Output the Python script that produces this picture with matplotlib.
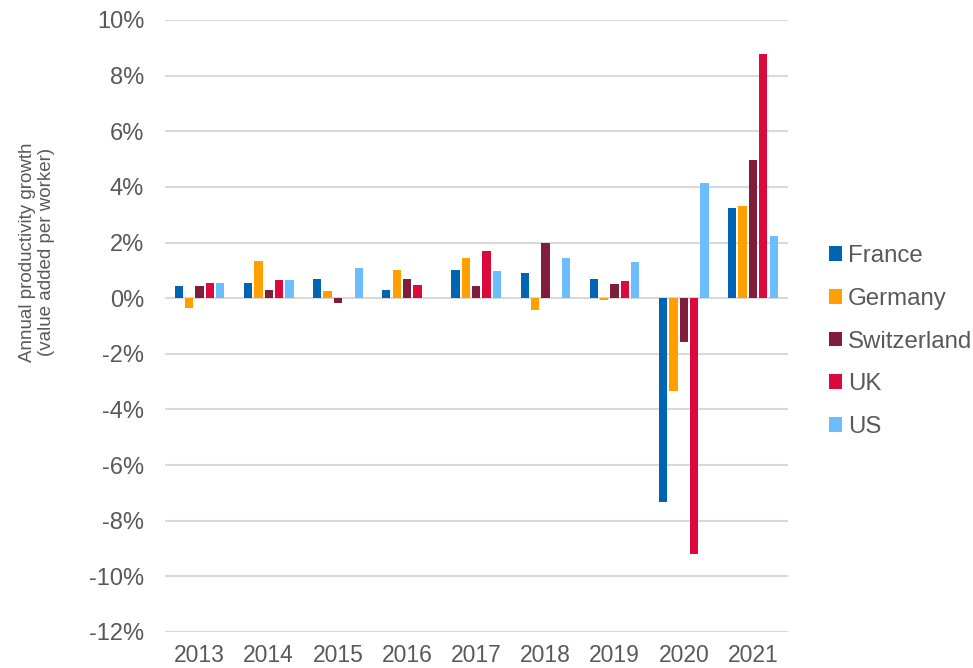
import matplotlib
matplotlib.use("Agg")
import matplotlib.pyplot as plt
import numpy as np

years = ["2013", "2014", "2015", "2016", "2017", "2018", "2019", "2020", "2021"]
countries = ["France", "Germany", "Switzerland", "UK", "US"]
france = [0.45, 0.53, 0.70, 0.31, 1.02, 0.90, 0.68, -7.33, 3.25]
germany = [-0.36, 1.32, 0.27, 1.00, 1.43, -0.42, -0.08, -3.34, 3.32]
switzerland = [0.42, 0.29, -0.16, 0.69, 0.43, 1.97, 0.52, -1.56, 4.98]
uk = [0.54, 0.64, 0.0, 0.46, 1.70, 0.0, 0.63, -9.20, 8.79]
us = [0.53, 0.66, 1.10, 0.0, 0.99, 1.46, 1.31, 4.13, 2.25]
series = [france, germany, switzerland, uk, us]
colors = ["#0064B4", "#FFA000", "#7F1D3A", "#DC0A3C", "#6CBDFD"]
yticks = list(range(-12, 11, 2))

plt.rcParams['font.family'] = ['Liberation Sans', 'DejaVu Sans']
text_color = "#595959"

fig = plt.figure(figsize=(9.73, 6.68), dpi=100)
ax = fig.add_axes([165 / 973, 1 - 632 / 668, (787.5 - 165) / 973, (632 - 20) / 668])

x = np.arange(len(years))
pitch = 0.15
width = 0.12
for j, (vals, name, c) in enumerate(zip(series, countries, colors)):
    ax.bar(x + (j - 2) * pitch, vals, width, color=c, label=name, zorder=3)

ax.set_xlim(-0.5, len(years) - 0.5)
ax.set_ylim(-12, 10)
ax.set_yticks(yticks)
ax.set_yticklabels([f"{t}%" for t in yticks])
ax.set_xticks(x)
ax.set_xticklabels(years)
ax.yaxis.grid(True, color="#D9D9D9", linewidth=1.5, zorder=0)
ax.set_axisbelow(True)
for s in ax.spines.values():
    s.set_visible(False)
ax.tick_params(axis='both', length=0, labelsize=17, colors=text_color)
ax.tick_params(axis='y', pad=15)
ax.tick_params(axis='x', pad=9, labelsize=16.5)

fig.text(37 / 973, 1 - 252 / 668, "Annual productivity growth\n(value added per worker)",
         rotation=90, ha='center', va='center', multialignment='center',
         fontsize=13.5, color=text_color)

leg = ax.legend(loc='center left', bbox_to_anchor=(829 / 973, 1 - 341.5 / 668),
                bbox_transform=fig.transFigure, frameon=False, fontsize=17.3,
                handlelength=0.55, handleheight=0.55, handletextpad=0.25,
                labelspacing=0.86, borderpad=0, borderaxespad=0)
for t in leg.get_texts():
    t.set_color(text_color)

fig.savefig("out.png", dpi=100)
